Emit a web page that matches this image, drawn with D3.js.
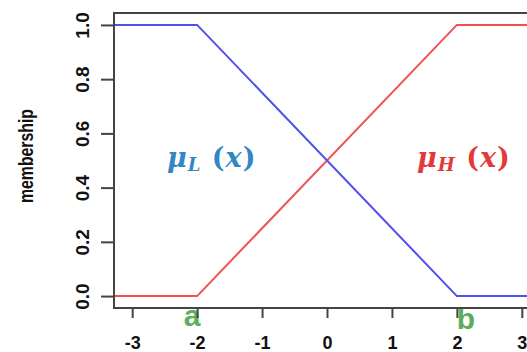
<!DOCTYPE html>
<html lang="en">
<head>
    <meta charset="UTF-8">
    <title>membership</title>
    <script src="https://cdn.jsdelivr.net/npm/d3@7/dist/d3.min.js"></script>
</head>
<style>
    body { margin: 0; background: #fff; }
    .tick text { font-family: "Liberation Sans", Arial, sans-serif; fill: #111; }
</style>
<body>
<script>
    var width = 527;
    var height = 352;

    // breakpoints of the two membership functions
    var xPts = [-3.4, -2, 2, 3.4];
    var lowVals = [1, 1, 0, 0];
    var highVals = [0, 0, 1, 1];
    var xTicks = [-3, -2, -1, 0, 1, 2, 3];
    var yTicks = [0, 0.2, 0.4, 0.6, 0.8, 1.0];
    var markers = [{x: -2, name: 'a', dx: -5, base: 326}, {x: 2, name: 'b', dx: 9, base: 329}];

    var box = {left: 114, top: 13, right: 540, bottom: 308};

    var x = d3.scaleLinear().domain([-3.28, 3.28]).range([box.left, box.right]);
    var y = d3.scaleLinear().domain([-0.044, 1.044]).range([box.bottom, box.top]);

    var svg = d3.select('body').append('svg')
        .attr('width', width)
        .attr('height', height);

    svg.append('clipPath').attr('id', 'clip')
        .append('rect')
        .attr('x', box.left).attr('y', box.top)
        .attr('width', box.right - box.left).attr('height', box.bottom - box.top);

    var line = d3.line()
        .x(function (d) { return x(d[0]); })
        .y(function (d) { return y(d[1]); });

    svg.append('path')
        .datum(d3.zip(xPts, highVals))
        .attr('clip-path', 'url(#clip)')
        .attr('d', line)
        .attr('fill', 'none')
        .attr('stroke', '#f05050')
        .attr('stroke-width', 2);

    svg.append('path')
        .datum(d3.zip(xPts, lowVals))
        .attr('clip-path', 'url(#clip)')
        .attr('d', line)
        .attr('fill', 'none')
        .attr('stroke', '#5050f0')
        .attr('stroke-width', 2);

    // green markers under the axis (drawn before the frame so it covers them)
    svg.selectAll('.marker')
        .data(markers)
        .enter()
        .append('text')
        .attr('class', 'marker')
        .attr('x', function (d) { return x(d.x) + d.dx; })
        .attr('y', function (d) { return d.base; })
        .attr('text-anchor', 'middle')
        .attr('font-family', 'Liberation Sans, Arial, sans-serif')
        .attr('font-weight', 'bold')
        .attr('font-size', 30)
        .attr('fill', '#5cae5c')
        .text(function (d) { return d.name; });

    // frame
    svg.append('rect')
        .attr('x', box.left).attr('y', box.top)
        .attr('width', box.right - box.left).attr('height', box.bottom - box.top)
        .attr('fill', 'none')
        .attr('stroke', '#444')
        .attr('stroke-width', 2);

    var xAxis = d3.axisBottom(x).tickValues(xTicks).tickSize(10).tickPadding(18)
        .tickFormat(d3.format('d'));
    var gx = svg.append('g')
        .attr('transform', 'translate(0,' + box.bottom + ')')
        .call(xAxis);
    gx.select('.domain').remove();
    gx.selectAll('.tick line').attr('stroke', '#444').attr('stroke-width', 2);
    gx.selectAll('.tick text').attr('font-size', 18).attr('font-weight', 'bold')
        .text(function (d) { return d < 0 ? '-' + Math.abs(d) : d; });

    var yAxis = d3.axisLeft(y).tickValues(yTicks).tickSize(13).tickPadding(0)
        .tickFormat(d3.format('.1f'));
    var gy = svg.append('g')
        .attr('transform', 'translate(' + box.left + ',0)')
        .call(yAxis);
    gy.select('.domain').remove();
    gy.selectAll('.tick line').attr('stroke', '#444').attr('stroke-width', 2);
    gy.selectAll('.tick text')
        .attr('font-size', 19)
        .attr('font-weight', 'bold')
        .attr('text-anchor', 'middle')
        .attr('x', 0).attr('dy', 0)
        .attr('transform', 'translate(-32,0) rotate(-90)')
        .attr('y', 0)
        .attr('dominant-baseline', 'central');

    svg.append('text')
        .attr('transform', 'translate(25,156) rotate(-90)')
        .attr('text-anchor', 'middle')
        .attr('dominant-baseline', 'central')
        .attr('font-family', 'Liberation Sans, Arial, sans-serif')
        .attr('font-weight', 'bold')
        .attr('font-size', 21)
        .attr('textLength', 94)
        .attr('lengthAdjust', 'spacingAndGlyphs')
        .attr('fill', '#111')
        .text('membership');

    // curve labels
    function muLabel(xpos, sub, color) {
        var t = svg.append('text')
            .attr('x', xpos).attr('y', 167)
            .attr('font-family', 'DejaVu Serif, Liberation Serif, serif')
            .attr('font-weight', 'bold')
            .attr('font-size', 27)
            .attr('letter-spacing', 1)
            .attr('fill', color);
        t.append('tspan').attr('font-style', 'italic').text('μ');
        t.append('tspan').attr('font-style', 'italic').attr('font-size', 18).attr('dy', 4).text(sub);
        t.append('tspan').attr('dy', -4).text(' (');
        t.append('tspan').attr('font-style', 'italic').text('x');
        t.append('tspan').text(')');
    }
    muLabel(167, 'L', '#3386c4');
    muLabel(417, 'H', '#e23a3a');
</script>
</body>
</html>
